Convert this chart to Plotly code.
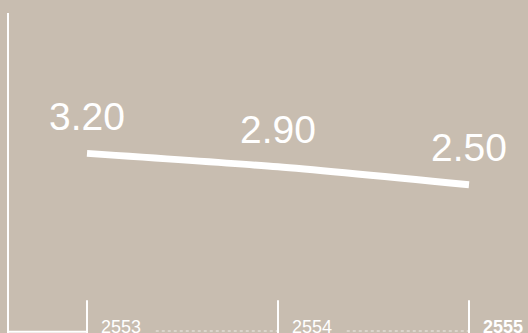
import plotly.graph_objects as go

# Rate by year (Buddhist Era)
years = ["2553", "2554", "2555"]
rates = [3.20, 2.90, 2.50]
value_labels = ["3.20", "2.90", "2.50"]

BG = "#c8bdb0"
WHITE = "#ffffff"

xs = list(range(len(years)))

fig = go.Figure()
fig.add_trace(go.Scatter(
    x=xs, y=rates, mode="lines",
    line=dict(color=WHITE, width=7, shape="spline", smoothing=0.6),
    hoverinfo="skip", showlegend=False,
))

annotations = []
# value labels above each point
for x, v, t in zip(xs, rates, value_labels):
    annotations.append(dict(
        x=x, y=v, xref="x", yref="y", text=t, showarrow=False,
        yshift=37, font=dict(family="Liberation Sans, Arial, sans-serif", size=39, color=WHITE),
    ))
# year labels along the bottom, right of each tick
for i, (x, yr) in enumerate(zip(xs, years)):
    label = f"<b>{yr}</b>" if i == len(years) - 1 else yr
    annotations.append(dict(
        x=x, y=0, xref="x", yref="paper", text=label, showarrow=False,
        xanchor="left", yanchor="bottom", xshift=12, yshift=-6,
        font=dict(family="Liberation Sans, Arial, sans-serif", size=18, color=WHITE),
    ))

shapes = [
    # left axis line
    dict(type="line", xref="paper", yref="paper", x0=8 / 528, x1=8 / 528, y0=0, y1=0.961,
         line=dict(color=WHITE, width=2)),
    # bottom baseline up to the first year
    dict(type="line", xref="paper", yref="x domain" if False else "paper",
         x0=8 / 528, x1=0, y0=0.004, y1=0.004, line=dict(color=WHITE, width=2)),
]
# fix second shape: x1 in data coords
shapes[1] = dict(type="line", xref="x", yref="paper", x0=-79 / 191, x1=0, y0=0.004, y1=0.004,
                 line=dict(color=WHITE, width=2))
for x in xs:
    shapes.append(dict(type="line", xref="x", yref="paper", x0=x, x1=x, y0=0, y1=0.098,
                       line=dict(color=WHITE, width=2)))
for x in xs[:-1]:
    shapes.append(dict(type="line", xref="x", yref="paper", x0=x + 0.36, x1=x + 1, y0=0.006, y1=0.006,
                       line=dict(color="rgba(255,255,255,0.7)", width=1, dash="dot")))

fig.update_layout(
    width=528, height=333,
    margin=dict(l=0, r=0, t=0, b=0),
    paper_bgcolor=BG, plot_bgcolor=BG,
    xaxis=dict(range=[-87 / 191, 441 / 191], visible=False, fixedrange=True),
    yaxis=dict(range=[-0.801, 6.616], visible=False, fixedrange=True),
    annotations=annotations, shapes=shapes,
    showlegend=False,
)

fig.write_html("out.html")
